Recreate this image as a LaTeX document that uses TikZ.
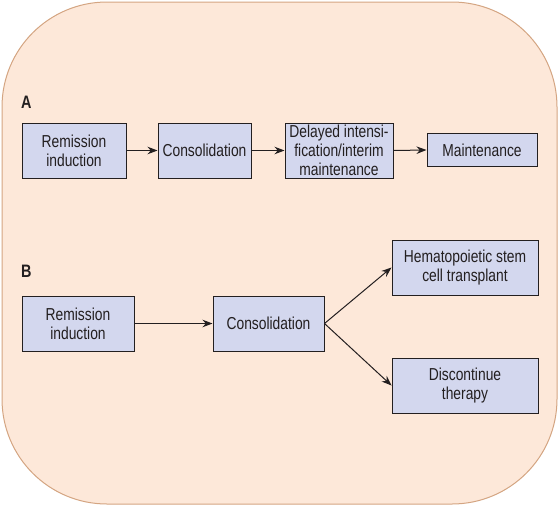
\documentclass[tikz,border=0pt]{standalone}
\usepackage{fontspec}
\setmainfont{Liberation Sans}[FakeStretch=0.8]
\usetikzlibrary{arrows.meta}
\definecolor{bgfill}{HTML}{FDE8D9}
\definecolor{bgline}{HTML}{D4A582}
\definecolor{boxfill}{HTML}{D3D7EE}
\definecolor{ink}{HTML}{231F20}
\tikzset{
  stagebox/.style={draw=ink, line width=1pt, fill=boxfill, align=center, inner sep=1pt,
    font=\fontsize{17.3}{19}\selectfont, text=ink},
  flow/.style={draw=ink, line width=1pt, -{Stealth[length=10pt,width=7.5pt]}},
  panel/.style={font=\fontsize{18}{19}\selectfont\bfseries, text=ink, anchor=west, inner sep=0pt}
}
\begin{document}
\begin{tikzpicture}[x=1pt,y=-1pt]
\useasboundingbox (0,0) rectangle (559,506);
\draw[bgline, fill=bgfill, line width=1pt, rounded corners=105pt] (2,2) rectangle (557,504);
\node[panel] (A) at (21,102) {A};
\node[stagebox, minimum width=104pt, minimum height=55pt] (ra) at (74,150.5) {Remission\\induction};
\node[stagebox, minimum width=93pt, minimum height=55pt] (ca) at (204.5,150.5) {Consolidation};
\node[stagebox, minimum width=108pt, minimum height=55pt] (da) at (339,150.5) {Delayed intensi-\\fication/interim\\maintenance};
\node[stagebox, minimum width=110pt, minimum height=33pt] (ma) at (482,150) {Maintenance};
\draw[flow] (ra.east) -- (ca.west);
\draw[flow] (ca.east) -- (da.west);
\draw[flow] (da.east) -- (ma.west);
\node[panel] (B) at (21,271) {B};
\node[stagebox, minimum width=112pt, minimum height=55pt] (rb) at (78,323.5) {Remission\\induction};
\node[stagebox, minimum width=111pt, minimum height=55pt] (cb) at (268.5,323.5) {Consolidation};
\node[stagebox, minimum width=146pt, minimum height=55pt] (hb) at (465,267.5) {Hematopoietic stem\\cell transplant};
\node[stagebox, minimum width=146pt, minimum height=55pt] (db) at (465,385.5) {Discontinue\\therapy};
\draw[flow] (rb.east) -- (cb.west);
\draw[flow] (cb.east) -- (hb.west);
\draw[flow] (cb.east) -- (db.west);
\end{tikzpicture}
\end{document}
